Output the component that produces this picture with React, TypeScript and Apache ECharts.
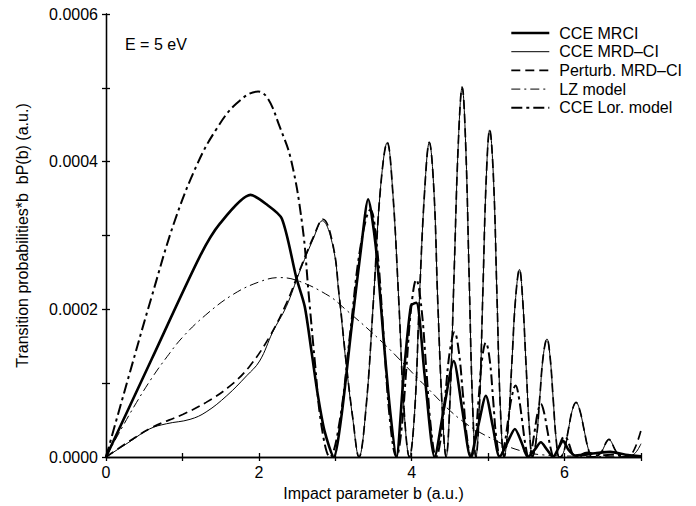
import React, { useEffect, useRef } from "react";
import * as echarts from "echarts";

const seriesNames = ["CCE MRCI", "CCE MRD–CI", "Perturb. MRD–CI", "LZ model", "CCE Lor. model"];
const xTickValues = [0, 1, 2, 3, 4, 5, 6, 7];
const yTickValues = [0, 0.0001, 0.0002, 0.0003, 0.0004, 0.0005, 0.0006];

const cceMrci: [number, number][] = [
  [0, 0], [0.6, 1.33e-4], [1.23, 2.72e-4], [1.49, 3.16e-4], [1.89, 3.55e-4], [2.09, 3.43e-4], [2.3, 3.23e-4],
  [2.49, 2.43e-4], [2.6, 2.04e-4], [2.69, 1.42e-4], [2.77, 0.85e-4], [2.86, 0.35e-4], [2.98, 0],
  [3.08, 0.55e-4], [3.21, 1.73e-4], [3.34, 2.85e-4], [3.43, 3.49e-4], [3.53, 2.85e-4], [3.64, 1.5e-4], [3.72, 0.6e-4], [3.8, 0],
  [3.89, 1.05e-4], [3.99, 2.05e-4], [4.06, 2.09e-4], [4.17, 1.1e-4], [4.3, 0],
  [4.42, 0.65e-4], [4.55, 1.3e-4], [4.66, 0.65e-4], [4.77, 0],
  [4.87, 0.42e-4], [4.97, 0.83e-4], [5.06, 0.42e-4], [5.15, 0],
  [5.25, 0.19e-4], [5.35, 0.38e-4], [5.44, 0.19e-4], [5.52, 0],
  [5.61, 0.1e-4], [5.69, 0.2e-4], [5.77, 0.1e-4], [5.85, 0],
  [5.92, 0.12e-4], [5.98, 0.22e-4], [6.05, 0.1e-4], [6.14, 0.02e-4], [6.4, 0.05e-4], [6.6, 0.07e-4], [6.8, 0.03e-4], [7.0, 0.01e-4],
];

const mrdCiRise: [number, number][] = [
  [0, 0], [0.3, 0.2e-4], [0.57, 0.38e-4], [0.79, 0.45e-4], [1.1, 0.51e-4], [1.31, 0.61e-4], [1.58, 0.83e-4],
  [1.84, 1.1e-4], [2.01, 1.3e-4], [2.18, 1.69e-4], [2.36, 2.04e-4], [2.53, 2.5e-4], [2.71, 2.95e-4], [2.83, 3.2e-4],
  [2.97, 2.85e-4], [3.05, 2.18e-4], [3.14, 1.28e-4], [3.23, 0.51e-4], [3.31, 0],
];

const perturbRise: [number, number][] = [
  [0, 0], [0.3, 0.21e-4], [0.6, 0.4e-4], [1.01, 0.58e-4], [1.31, 0.74e-4], [1.62, 0.96e-4], [1.88, 1.23e-4],
  [2.14, 1.63e-4], [2.36, 2.08e-4], [2.53, 2.52e-4], [2.71, 2.97e-4], [2.84, 3.22e-4],
  [2.97, 2.87e-4], [3.05, 2.2e-4], [3.14, 1.3e-4], [3.23, 0.52e-4], [3.31, 0],
];

const mrdOscillation: [number, number][] = [
  [3.4, 0.64e-4], [3.5, 2.13e-4], [3.59, 3.62e-4], [3.68, 4.26e-4], [3.75, 3.62e-4], [3.83, 2.13e-4], [3.9, 0.64e-4], [3.97, 0],
  [4.04, 0.64e-4], [4.1, 2.13e-4], [4.17, 3.62e-4], [4.23, 4.26e-4], [4.29, 3.62e-4], [4.34, 2.13e-4], [4.4, 0.64e-4], [4.45, 0],
  [4.5, 0.75e-4], [4.555, 2.5e-4], [4.61, 4.26e-4], [4.66, 5.01e-4], [4.705, 4.26e-4], [4.75, 2.5e-4], [4.795, 0.75e-4], [4.84, 0],
  [4.885, 0.66e-4], [4.93, 2.2e-4], [4.975, 3.77e-4], [5.02, 4.43e-4], [5.07, 3.77e-4], [5.115, 2.2e-4], [5.16, 0.66e-4], [5.21, 0],
  [5.26, 0.38e-4], [5.31, 1.27e-4], [5.36, 2.16e-4], [5.41, 2.54e-4], [5.45, 2.16e-4], [5.495, 1.27e-4], [5.54, 0.38e-4], [5.58, 0],
  [5.63, 0.24e-4], [5.675, 0.8e-4], [5.72, 1.36e-4], [5.77, 1.6e-4], [5.81, 1.36e-4], [5.85, 0.8e-4], [5.89, 0.24e-4], [5.93, 0],
  [5.96, 0.01e-4], [6.0, 0.11e-4], [6.05, 0.37e-4], [6.1, 0.63e-4], [6.15, 0.74e-4], [6.2, 0.63e-4], [6.255, 0.37e-4], [6.31, 0.11e-4], [6.36, 0],
  [6.42, 0.01e-4], [6.47, 0.05e-4], [6.51, 0.12e-4], [6.545, 0.2e-4], [6.58, 0.24e-4], [6.615, 0.2e-4], [6.65, 0.12e-4], [6.69, 0.05e-4], [6.74, 0],
];

const mrdCiEnd: [number, number][] = [[6.85, 0.01e-4], [6.93, 0.06e-4], [7.0, 0.18e-4]];
const perturbEnd: [number, number][] = [[6.85, 0.02e-4], [6.92, 0.12e-4], [7.0, 0.36e-4]];

const lzModel: [number, number][] = [
  [0, 0], [0.2, 0.38e-4], [0.4, 0.74e-4], [0.6, 1.07e-4], [0.8, 1.36e-4], [1.0, 1.62e-4], [1.3, 1.92e-4],
  [1.66, 2.2e-4], [2.0, 2.37e-4], [2.27, 2.43e-4], [2.53, 2.38e-4], [2.92, 2.18e-4], [3.1, 2.03e-4],
  [3.62, 1.55e-4], [4.19, 0.95e-4], [4.66, 0.49e-4], [5.14, 0.2e-4], [5.44, 0.08e-4], [5.7, 0.03e-4], [6.2, 0.01e-4], [7.0, 0],
];

const cceLorModel: [number, number][] = [
  [0, 0], [0.3, 1.1e-4], [0.6, 2.18e-4], [0.9, 3.2e-4], [1.2, 3.98e-4], [1.45, 4.45e-4], [1.7, 4.78e-4],
  [1.99, 4.95e-4], [2.12, 4.85e-4], [2.27, 4.48e-4],
  [2.42, 4.03e-4], [2.57, 3.13e-4], [2.65, 2.23e-4], [2.73, 1.32e-4], [2.82, 0.42e-4], [2.93, 0],
  [3.06, 0.5e-4], [3.195, 1.68e-4], [3.33, 2.85e-4], [3.46, 3.35e-4], [3.545, 2.85e-4], [3.63, 1.68e-4], [3.715, 0.5e-4], [3.8, 0],
  [3.865, 0.36e-4], [3.93, 1.2e-4], [3.995, 2.04e-4], [4.06, 2.4e-4], [4.125, 2.04e-4], [4.19, 1.2e-4], [4.255, 0.36e-4], [4.32, 0],
  [4.38, 0.25e-4], [4.44, 0.85e-4], [4.5, 1.44e-4], [4.56, 1.69e-4], [4.615, 1.44e-4], [4.67, 0.85e-4], [4.725, 0.25e-4], [4.78, 0],
  [4.83, 0.23e-4], [4.875, 0.78e-4], [4.92, 1.32e-4], [4.97, 1.55e-4], [5.02, 1.32e-4], [5.065, 0.78e-4], [5.11, 0.23e-4], [5.16, 0],
  [5.21, 0.15e-4], [5.26, 0.49e-4], [5.31, 0.82e-4], [5.36, 0.97e-4], [5.4, 0.82e-4], [5.445, 0.49e-4], [5.49, 0.15e-4], [5.53, 0],
  [5.57, 0.11e-4], [5.61, 0.36e-4], [5.65, 0.61e-4], [5.69, 0.72e-4], [5.73, 0.61e-4], [5.775, 0.36e-4], [5.82, 0.11e-4], [5.86, 0],
  [5.895, 0.04e-4], [5.93, 0.14e-4], [5.965, 0.24e-4], [6.0, 0.28e-4], [6.035, 0.24e-4], [6.07, 0.14e-4], [6.105, 0.04e-4], [6.14, 0],
  [6.3, 0.06e-4], [6.45, 0.02e-4], [6.6, 0.03e-4], [7.0, 0.01e-4],
];

const FONT = "'Liberation Sans', Arial, Helvetica, sans-serif";

export default function App() {
  const ref = useRef<HTMLDivElement>(null);
  useEffect(() => {
    if (!ref.current) return;
    const chart = echarts.init(ref.current, null, { renderer: "svg" });
    const axisLine = { show: true, lineStyle: { color: "#000", width: 1.3 } };
    const axisTick = { show: true, inside: true, length: 4, lineStyle: { color: "#000", width: 1.3 } };
    const xMin = xTickValues[0];
    const xMax = xTickValues[xTickValues.length - 1];
    const yMin = yTickValues[0];
    const yMax = yTickValues[yTickValues.length - 1];
    const line = (name: string, data: [number, number][], width: number, type: any, smooth: number, z: number) => ({
      name,
      type: "line",
      data,
      symbol: "none",
      smooth,
      z,
      lineStyle: { color: "#000", width, type },
      itemStyle: { color: "#000" },
    });
    chart.setOption({
      animation: false,
      backgroundColor: "#fff",
      textStyle: { fontFamily: FONT, color: "#000" },
      grid: { left: 106, right: 55, top: 14, bottom: 48 },
      title: {
        text: "E = 5 eV",
        left: 125,
        top: 36,
        padding: 0,
        textStyle: { fontFamily: FONT, fontSize: 16, fontWeight: "normal", color: "#000" },
      },
      legend: {
        orient: "vertical",
        left: 510,
        top: 25,
        padding: 0,
        itemWidth: 38,
        itemHeight: 14,
        itemGap: 2.7,
        data: seriesNames,
        lineStyle: { width: "inherit", type: "inherit", color: "inherit" },
        itemStyle: { color: "rgba(0,0,0,0)", borderColor: "rgba(0,0,0,0)", borderWidth: 0, opacity: 0 },
        textStyle: { fontFamily: FONT, fontSize: 16, color: "#000", lineHeight: 16, padding: [0, 0, 0, 5] },
      },
      xAxis: [
        {
          type: "value",
          min: xMin,
          max: xMax,
          interval: 1,
          position: "bottom",
          name: "Impact parameter b (a.u.)",
          nameLocation: "middle",
          nameGap: 28,
          nameTextStyle: { fontFamily: FONT, fontSize: 16, color: "#000" },
          axisLine,
          axisTick,
          splitLine: { show: false },
          axisLabel: {
            fontFamily: FONT,
            fontSize: 16,
            color: "#000",
            margin: 7,
            formatter: (v: number) => (Math.round(v) % 2 === 0 ? String(v) : ""),
          },
        },
        {
          type: "value",
          min: xMin,
          max: xMax,
          interval: 1,
          position: "top",
          axisLine,
          axisTick,
          splitLine: { show: false },
          axisLabel: { show: false },
        },
      ],
      yAxis: [
        {
          type: "value",
          min: yMin,
          max: yMax,
          interval: 0.0001,
          position: "left",
          name: "Transition probabilities*b  bP(b) (a.u.)",
          nameLocation: "middle",
          nameGap: 76,
          nameTextStyle: { fontFamily: FONT, fontSize: 16, color: "#000" },
          axisLine,
          axisTick,
          splitLine: { show: false },
          axisLabel: {
            fontFamily: FONT,
            fontSize: 16,
            color: "#000",
            margin: 8,
            formatter: (v: number) => (Math.round(v * 10000) % 2 === 0 ? v.toFixed(4) : ""),
          },
        },
        {
          type: "value",
          min: yMin,
          max: yMax,
          interval: 0.0001,
          position: "right",
          axisLine,
          axisTick,
          splitLine: { show: false },
          axisLabel: { show: false },
        },
      ],
      series: [
        line(seriesNames[0], cceMrci, 2.6, "solid", 0.25, 5),
        line(seriesNames[1], [...mrdCiRise, ...mrdOscillation, ...mrdCiEnd], 1, "solid", 0.4, 6),
        line(seriesNames[2], [...perturbRise, ...mrdOscillation, ...perturbEnd], 1.7, [9, 5], 0.4, 4),
        line(seriesNames[3], lzModel, 1, [9, 4, 2, 4], 0.4, 3),
        line(seriesNames[4], cceLorModel, 2, [11, 4, 3, 4], 0.4, 2),
      ],
    });
    return () => chart.dispose();
  }, []);
  return (
    <div
      ref={ref}
      style={{ position: "fixed", left: 0, top: 0, width: 696, height: 506, background: "#fff" }}
    />
  );
}
